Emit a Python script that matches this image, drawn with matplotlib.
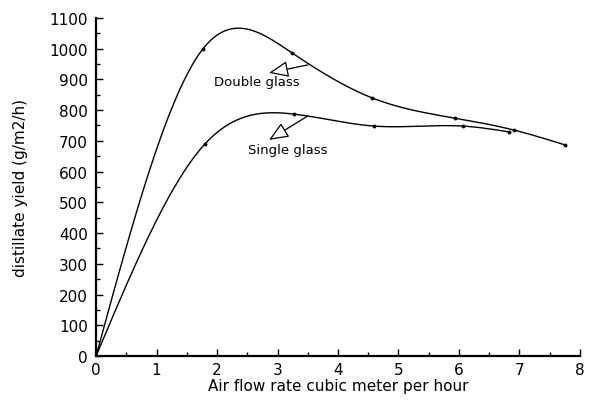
import matplotlib
matplotlib.use('Agg')
from matplotlib import pyplot as plt
import numpy as np

# air flow rate (m3/h) and distillate yield (g/m2/h)
double_x = [0, 1.77, 3.24, 4.56, 5.93, 6.91, 7.75]
double_y = [0, 1000, 986, 840, 774, 735, 687]
single_x = [0, 1.80, 3.27, 4.60, 6.07, 6.83]
single_y = [0, 690, 787, 748, 748, 729]

xticks = [0, 1, 2, 3, 4, 5, 6, 7, 8]
yticks = list(range(0, 1101, 100))


def natural_spline(x, y, n=300):
    # plain natural cubic spline, solved with numpy
    x = np.asarray(x, float)
    y = np.asarray(y, float)
    k = len(x)
    h = np.diff(x)
    A = np.zeros((k, k))
    b = np.zeros(k)
    A[0, 0] = A[-1, -1] = 1.0
    for i in range(1, k - 1):
        A[i, i - 1] = h[i - 1]
        A[i, i] = 2 * (h[i - 1] + h[i])
        A[i, i + 1] = h[i]
        b[i] = 6 * ((y[i + 1] - y[i]) / h[i] - (y[i] - y[i - 1]) / h[i - 1])
    m = np.linalg.solve(A, b)
    xs = np.linspace(x[0], x[-1], n)
    idx = np.clip(np.searchsorted(x, xs) - 1, 0, k - 2)
    x0, x1 = x[idx], x[idx + 1]
    hh = x1 - x0
    t0, t1 = x1 - xs, xs - x0
    ys = (m[idx] * t0**3 + m[idx + 1] * t1**3) / (6 * hh) \
        + (y[idx] / hh - m[idx] * hh / 6) * t0 \
        + (y[idx + 1] / hh - m[idx + 1] * hh / 6) * t1
    return xs, ys


plt.rcParams['font.family'] = 'DejaVu Sans'
fig = plt.figure(figsize=(5.93, 4.10), dpi=100)
ax = fig.add_axes([0.162, 0.129, 0.816, 0.825])

for xv, yv in [(double_x, double_y), (single_x, single_y)]:
    sx, sy = natural_spline(xv, yv)
    ax.plot(sx, sy, color='black', lw=1.0)
    ax.plot(xv, yv, 'o', color='black', ms=1.8)

arrow = dict(arrowstyle='-|>,head_length=0.6,head_width=0.25',
             fc='white', ec='black', lw=0.9, mutation_scale=20,
             shrinkA=0, shrinkB=0)
ax.annotate('', xy=(2.86, 921), xytext=(3.5, 947), arrowprops=arrow)
ax.annotate('', xy=(2.86, 703), xytext=(3.5, 781), arrowprops=arrow)
ax.text(2.66, 893, 'Double glass', ha='center', va='center', fontsize=9.5)
ax.text(3.17, 672, 'Single glass', ha='center', va='center', fontsize=9.5)

ax.set_xlim(0, 8)
ax.set_ylim(0, 1100)
ax.set_xticks(xticks)
ax.set_yticks(yticks)
ax.set_xticks(np.arange(0.5, 8, 1), minor=True)
ax.set_yticks(np.arange(50, 1100, 100), minor=True)
ax.tick_params(which='both', direction='in', labelsize=11, width=1)
ax.tick_params(which='major', length=5)
ax.tick_params(axis='x', which='major', pad=4)
ax.tick_params(axis='y', which='major', pad=6)
ax.tick_params(which='minor', length=3)
for s in ['top', 'right']:
    ax.spines[s].set_visible(False)
for s in ['left', 'bottom']:
    ax.spines[s].set_linewidth(1.6)

ax.set_xlabel('Air flow rate cubic meter per hour', fontsize=11, labelpad=1)
ax.set_ylabel('distillate yield (g/m2/h)', fontsize=11, labelpad=15)

fig.savefig('out.png', dpi=100)
